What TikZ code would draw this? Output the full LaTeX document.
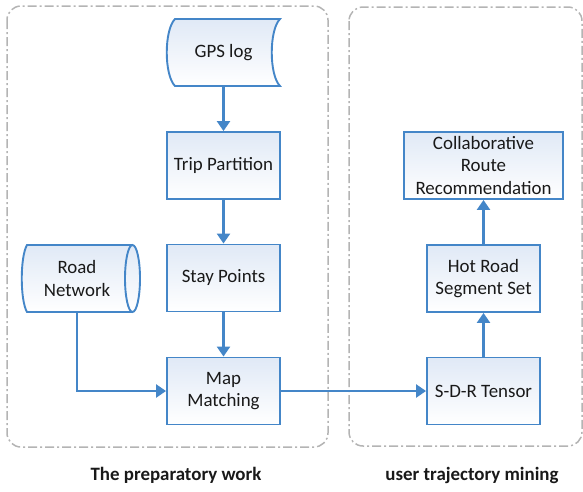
\documentclass[tikz,border=0pt]{standalone}
\usepackage{fontspec}
\setmainfont{Carlito}
\usetikzlibrary{arrows.meta}
\definecolor{bluec}{RGB}{68,134,200}
\definecolor{topc}{RGB}{224,233,246}
\definecolor{dashc}{RGB}{180,180,180}
\definecolor{txtc}{RGB}{25,25,25}
\newcommand{\boxfont}{\fontsize{18.9}{22.5}\selectfont}
\newcommand{\capfont}{\fontsize{18.9}{22.5}\selectfont\bfseries}
\tikzset{
  box/.style={draw=bluec, line width=1.9pt, top color=topc, bottom color=white,
    minimum width=113pt, minimum height=67pt, inner sep=0pt, align=center,
    font=\boxfont, text=txtc},
  ghost/.style={minimum width=100pt, minimum height=67pt, inner sep=0pt,
    align=center, font=\boxfont, text=txtc},
  outline/.style={draw=bluec, line width=1.9pt},
  shadefill/.style={top color=topc, bottom color=white, draw=none},
  flow/.style={draw=bluec, line width=2.4pt, -{Triangle[length=10pt,width=13pt]}},
  group/.style={draw=dashc, line width=1.5pt, rounded corners=14pt,
    dash pattern=on 9pt off 3pt on 2pt off 3pt},
  caption/.style={font=\capfont, text=txtc, anchor=base}
}
\begin{document}
\begin{tikzpicture}[x=1pt,y=-1pt]
\useasboundingbox (0,0) rectangle (583,491);
% group frames
\draw[group] (7,6) rectangle (328,447);
\draw[group] (349,7) rectangle (582,446);
% GPS log (stored data shape)
\path[shadefill] (175,19) -- (280,19) .. controls (269,30) and (269,75) .. (280,86)
  -- (175,86) .. controls (164,75) and (164,30) .. (175,19) -- cycle;
\draw[outline] (175,19) -- (280,19) .. controls (269,30) and (269,75) .. (280,86)
  -- (175,86) .. controls (164,75) and (164,30) .. (175,19) -- cycle;
\node[ghost, minimum width=113pt] (gps) at (223.5,52.5) {GPS log};
% Road Network (horizontal cylinder)
\path[shadefill] (27,245) -- (132.5,245)
  arc[start angle=90, end angle=-90, x radius=7.5pt, y radius=33.5pt]
  -- (27,312) .. controls (20,300) and (20,257) .. (27,245) -- cycle;
\draw[outline] (132.5,245) -- (27,245) .. controls (20,257) and (20,300) .. (27,312) -- (132.5,312);
\draw[outline] (132.5,278.5) ellipse[x radius=7.5pt, y radius=33.5pt];
\node[ghost] (road) at (77,278.5) {Road\\Network};
% process boxes
\node[box] (trip) at (223.5,165.5) {Trip Partition};
\node[box] (stay) at (223.5,278) {Stay Points};
\node[box] (mm) at (223.5,391) {Map\\Matching};
\node[box, minimum width=159pt] (crr) at (483.5,165.5) {Collaborative\\Route\\Recommendation};
\node[box] (hot) at (483.5,278.5) {Hot Road\\Segment Set};
\node[box] (sdr) at (483.5,391) {S-D-R Tensor};
% connectors
\draw[flow] (gps.south) -- (trip.north);
\draw[flow] (trip.south) -- (stay.north);
\draw[flow] (stay.south) -- (mm.north);
\draw[flow] (road.south) |- (mm.west);
\draw[flow] (mm.east) -- (sdr.west);
\draw[flow] (sdr.north) -- (hot.south);
\draw[flow] (hot.north) -- (crr.south);
% captions
\node[caption] (cap1) at (176,480) {The preparatory work};
\node[caption] (cap2) at (472,480) {user trajectory mining};
\end{tikzpicture}
\end{document}
